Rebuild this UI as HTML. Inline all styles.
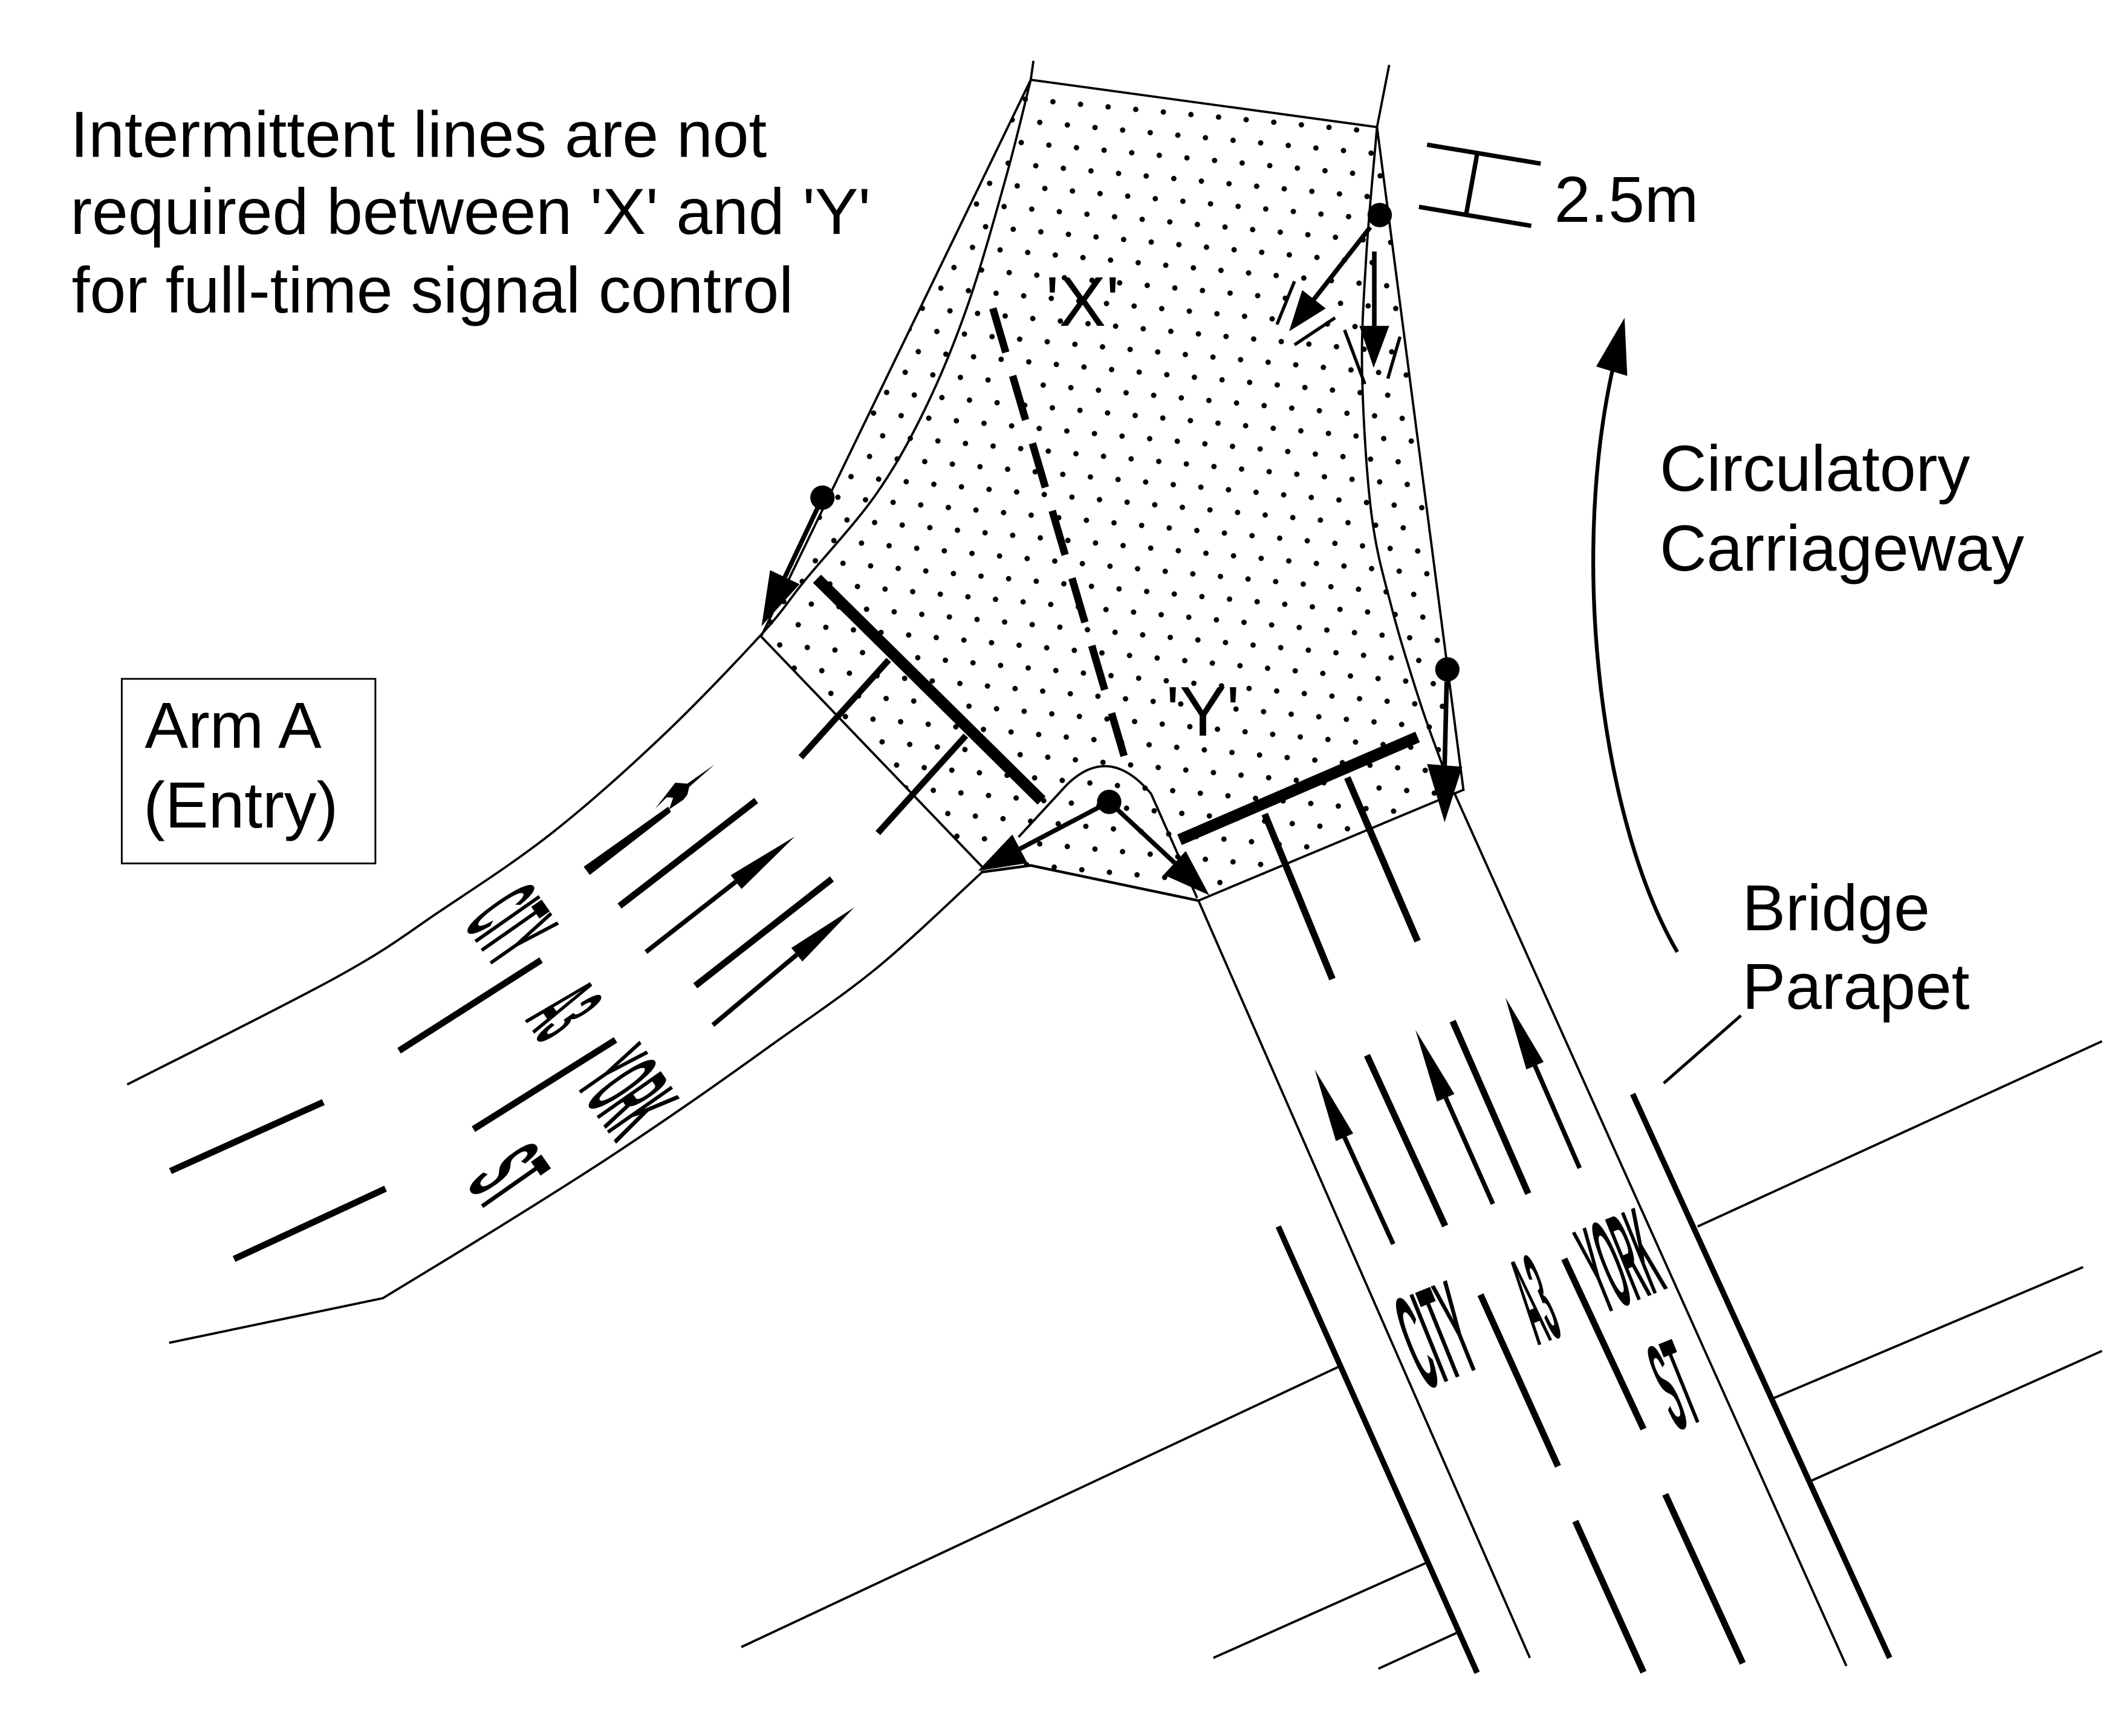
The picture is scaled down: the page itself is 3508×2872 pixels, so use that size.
<!DOCTYPE html>
<html><head><meta charset="utf-8"><style>
html,body{margin:0;padding:0;background:#fff;}
svg{display:block;}
text{font-family:"Liberation Sans",Arial,sans-serif;fill:#000;}
</style></head><body>
<svg xmlns="http://www.w3.org/2000/svg" width="3508" height="2872" viewBox="0 0 1568 1283.76">
<defs>
<pattern id="dots" width="20.5" height="32.2" patternUnits="userSpaceOnUse" patternTransform="rotate(5.3)">
<circle cx="3" cy="3" r="2" fill="#000"/>
<circle cx="15.25" cy="19.1" r="2" fill="#000"/>
</pattern>
</defs>
<rect x="0" y="0" width="1568" height="1284" fill="#fff"/>

<!-- stippled area -->
<polygon points="762,59 1018,94 1082,585 886,666 762,640 728,644 562,470" fill="url(#dots)"/>

<!-- thin outlines -->
<g fill="none" stroke="#000" stroke-width="1.7" stroke-linejoin="round">
<path d="M764,45 L762,59 C759,70.8 751.7,102.5 744,130 C736.3,157.5 725.8,195.7 716,224 C706.2,252.3 696.3,276.5 685,300 C673.7,323.5 662.8,343.7 648,365 C633.2,386.3 610.2,410.7 596,428 C581.8,445.3 580.7,449.7 563,469 C545.3,488.3 515.8,519.5 490,544 C464.2,568.5 435.5,594.3 408,616 C380.5,637.7 351.3,656.3 325,674 C298.7,691.7 288.5,700.7 250,722 C211.5,743.3 120,788.7 94,802"/>
<path d="M762,59 L563,470"/>
<path d="M762,59 L1018,94"/>
<path d="M1027,48 L1018,94 C1016.7,110 1011.8,159.5 1010,190 C1008.2,220.5 1006.3,245.2 1007,277 C1007.7,308.8 1010.3,352.2 1014,381 C1017.7,409.8 1023,426.8 1029,450 C1035,473.2 1043.8,500.8 1050,520 C1056.2,539.2 1062,553.7 1066,565 C1070,576.3 1072.7,584.2 1074,588"/>
<path d="M1018,94 L1082,585"/>
<path d="M886,666 L1082,584"/>
<path d="M562,470 L728,643"/>
<path d="M726,645 C713,656.8 674,694.7 648,716 C622,737.3 593.8,755.8 570,773 C546.2,790.2 526.5,804.2 505,819 C483.5,833.8 465.2,846.3 441,862 C416.8,877.7 386.3,896.7 360,913 C333.7,929.3 295.8,952.2 283,960 L125,993"/>
<path d="M886,666 L1131,1226"/>
<path d="M1075,586 L1365,1232"/>
<path d="M753,619 L789,580 Q820,550 851,587 L885,664"/>
<!-- bridge lines -->
<path d="M1255,907 L1554,770"/>
<path d="M1311,1034 L1540,937"/>
<path d="M1339,1095 L1554,999"/>
<path d="M548,1218 L989,1011"/>
<path d="M897,1226 L1056,1155"/>
<path d="M1019,1234 L1078,1207"/>
</g>
<path d="M725,645 L762,640 L886,666" fill="none" stroke="#000" stroke-width="2"/>
<path d="M1230,801 L1287,751" stroke="#000" stroke-width="2.2"/>

<!-- parapets -->
<g stroke="#000" stroke-width="4.2" stroke-linecap="butt">
<path d="M945,907 L1092,1237"/>
<path d="M1207,809 L1397,1226"/>
</g>

<!-- stop lines and stems -->
<g stroke="#000" stroke-linecap="butt">
<path d="M604,428 L770,592" stroke-width="8.5"/>
<path d="M872,621 L1048,545" stroke-width="8.5"/>
<path d="M657,488 L592,560" stroke-width="4.6"/>
<path d="M714,544 L649,616" stroke-width="4.6"/>
<path d="M935,602 L985,724" stroke-width="5"/>
<path d="M996,575 L1048,696" stroke-width="5"/>
</g>

<!-- dashed X-Y line -->
<path d="M734,228 L831,559" stroke="#000" stroke-width="5.5" stroke-dasharray="34 18" fill="none"/>

<!-- lane markings right arm -->
<g stroke="#000" stroke-width="3.4">
<path d="M1030,920 L994,841"/>
<path d="M1103.7,890.3 L1068.8,811.8"/>
<path d="M1167.8,863.8 L1134.8,788.1"/>
</g>
<g stroke="#000" stroke-width="4.8">
<path d="M1010.6,780.4 L1068.4,906.6"/>
<path d="M1073.9,755.1 L1129.8,882.7"/>
<path d="M1094.5,957.4 L1151.8,1084.3"/>
<path d="M1156.4,930.9 L1215,1056.8"/>
<path d="M1164.6,1124.9 L1215,1236.6"/>
<path d="M1231.1,1105 L1288.4,1230"/>
</g>
<g fill="#000">
<polygon points="972,791 1000.4,838.2 987.6,843.8"/>
<polygon points="1046.4,761.6 1075.2,809 1062.4,814.6"/>
<polygon points="1112.9,737.7 1141.2,785.3 1128.4,790.9"/>
</g>

<!-- lane markings left arm -->
<g stroke="#000" stroke-width="3.4">
<path d="M477.5,704 L544,652"/>
<path d="M527,758 L589,706"/>
</g>
<g stroke="#000" stroke-width="4.8">
<path d="M458,670 L559,592"/>
<path d="M514,729 L615,650"/>
<path d="M295,777 L400,710"/>
<path d="M350,835 L455,769"/>
<path d="M126,866 L239,815"/>
<path d="M173,931 L285,879"/>
</g>
<polygon points="431.5,641 436,647 496,600.5 494,596.5" fill="#000"/>
<g fill="#000">
<polygon points="587.6,618.6 548.2,657.4 540.2,647.2"/>
<polygon points="631.5,671 593.2,711 585,701"/>
<polygon points="484.2,598.2 499.2,578.8 508.1,579.5 528.2,565.4 509.5,582 508.1,587.8 505.1,591.5 494.7,598.6 497.6,590 493,589.5"/>
</g>

<!-- road text right arm -->
<g font-weight="bold" font-size="16" text-anchor="middle">
<text transform="translate(1061,986) rotate(-22) scale(1,6.3)" x="0" y="5.73" textLength="46" lengthAdjust="spacingAndGlyphs">CITY</text>
<text transform="translate(1134,960) rotate(-22) scale(1,5.85)" x="0" y="5.73" textLength="21" lengthAdjust="spacingAndGlyphs">A3</text>
<text transform="translate(1197,931) rotate(-22) scale(1,5.85)" x="0" y="5.73" textLength="51" lengthAdjust="spacingAndGlyphs">YORK</text>
<text transform="translate(1237,1023) rotate(-22) scale(1,5.85)" x="0" y="5.73" textLength="23" lengthAdjust="spacingAndGlyphs">ST</text>
<!-- road text left arm -->
<text transform="translate(379,683) rotate(55) scale(1,5.25)" x="0" y="5.73" textLength="41" lengthAdjust="spacingAndGlyphs">CITY</text>
<text transform="translate(418,747) rotate(55) scale(1,5.05)" x="0" y="5.73" textLength="23" lengthAdjust="spacingAndGlyphs">A3</text>
<text transform="translate(465,807) rotate(55) scale(1,5.25)" x="0" y="5.73" textLength="53" lengthAdjust="spacingAndGlyphs">YORK</text>
<text transform="translate(377,869) rotate(55) scale(1,5.25)" x="0" y="5.73" textLength="27" lengthAdjust="spacingAndGlyphs">ST</text>
</g>

<!-- studs and arrows -->
<g fill="#000">
<circle cx="608" cy="368" r="9"/>
<circle cx="1020" cy="159" r="9"/>
<circle cx="1070" cy="495" r="9"/>
<circle cx="820" cy="593" r="9"/>
</g>
<g stroke="#000" stroke-width="3.4">
<path d="M608,368 L580.2,426.8"/>
<path d="M1013,168 L971.4,221.3"/>
<path d="M1016,186 L1016,241"/>
<path d="M1069.5,504 L1068,566"/>
<path d="M820,593 L754,627.7"/>
<path d="M820,593 L868.4,638.1"/>
</g>
<g fill="#000">
<polygon points="563,463 591.1,432 569.3,421.6"/>
<polygon points="953,245 980.1,228.1 962.7,214.5"/>
<polygon points="1005,241 1027,241 1015.5,272"/>
<polygon points="1055,565 1081,567 1068,608"/>
<polygon points="723,644 759.6,638.3 748.4,617.1"/>
<polygon points="894,662 876.6,629.3 860.2,646.9"/>
</g>
<!-- break marks -->
<g stroke="#000" stroke-width="2.4">
<path d="M957,208 L944,240"/>
<path d="M987,235 L957,255"/>
<path d="M994,244 L1009,284"/>
<path d="M1035,249 L1026,280"/>
</g>

<!-- 2.5m dimension -->
<g stroke="#000" stroke-width="3.3">
<path d="M1055,107 L1139,121"/>
<path d="M1049,153 L1132,167"/>
<path d="M1092,114 L1084,158"/>
</g>

<!-- circulatory arrow -->
<path d="M1240,704 C1185,610 1160,420 1192,274" fill="none" stroke="#000" stroke-width="2.8"/>
<polygon points="1201,235 1180,271 1203,278" fill="#000"/>

<!-- Arm A box -->
<rect x="90" y="502" width="187.5" height="136.5" fill="none" stroke="#000" stroke-width="1.3"/>

<!-- labels -->
<g font-size="48">
<text x="52" y="116">Intermittent lines are not</text>
<text x="52" y="173">required between 'X' and 'Y'</text>
<text x="53" y="231">for full-time signal control</text>
<text x="107" y="553">Arm A</text>
<text x="106" y="612">(Entry)</text>
<text x="1149" y="164">2.5m</text>
<text x="1227" y="363">Circulatory</text>
<text x="1227" y="422">Carriageway</text>
<text x="1288" y="688">Bridge</text>
<text x="1288" y="746">Parapet</text>
</g>
<text x="773" y="241" font-size="52">'X'</text>
<text x="862" y="544" font-size="52">'Y'</text>
</svg>
</body></html>
